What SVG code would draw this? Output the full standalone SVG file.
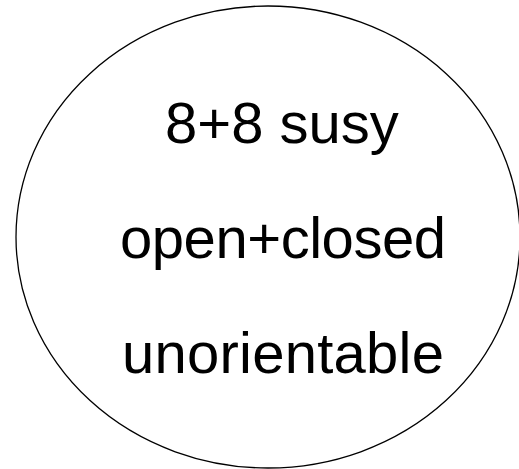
<svg xmlns="http://www.w3.org/2000/svg" width="519" height="469" viewBox="0 0 519 469">
<style>
.lbl{font-family:"Liberation Sans","Noto Sans CJK JP",sans-serif;font-size:58px;fill:#000;text-anchor:middle}
</style>
<rect width="519" height="469" fill="#fff"/>
<g id="node1">
<ellipse cx="268" cy="237" rx="252" ry="231" fill="#fff" stroke="#000" stroke-width="1.3"/>
<text class="lbl" x="282" y="143">8+8 susy</text>
<text class="lbl" x="283" y="258" textLength="326">open+closed</text>
<text class="lbl" x="283" y="373" textLength="322">unorientable</text>
</g>
<g id="connectors"></g>
</svg>
